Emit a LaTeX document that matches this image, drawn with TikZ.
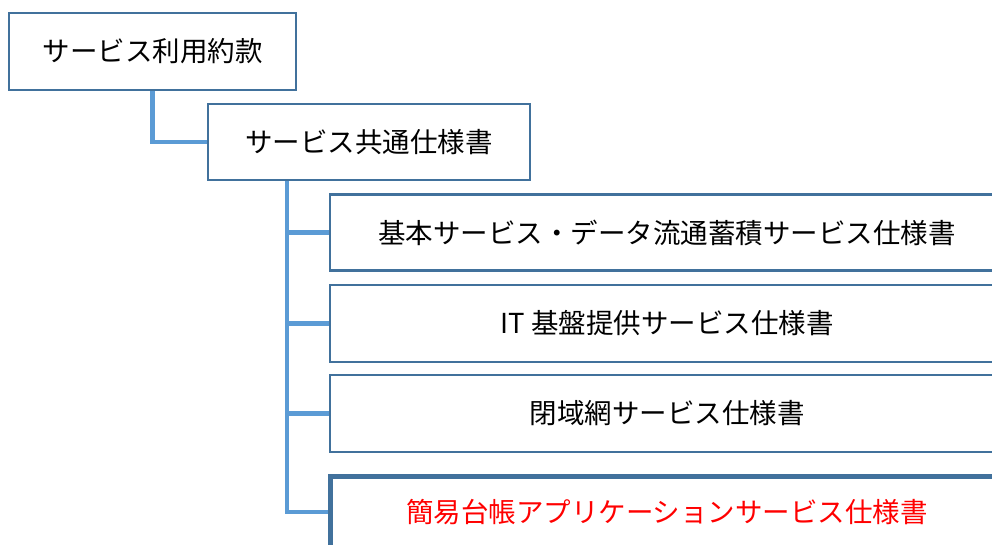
\documentclass[tikz,border=0pt]{standalone}
\usepackage{xcolor}
\usepackage{fontspec}
\newfontfamily\jpfont{Noto Sans CJK JP}
\usepackage{tikz}
\definecolor{boxline}{HTML}{41719C}
\definecolor{linkline}{HTML}{5B9BD5}

\begin{document}
\begin{tikzpicture}[x=1pt,y=-1pt]
			\tikzstyle{doc} = [draw=boxline, line width=2.8pt, fill=white, minimum height=77pt, inner sep=0pt, font=\jpfont\fontsize{27.5}{32}\selectfont]
			\tikzstyle{spec} = [doc, minimum width=674pt]
			\tikzset{link/.style = {draw=linkline, line width=4.5pt}}

			\useasboundingbox (0,0) rectangle (992,545);
			\clip (0,0) rectangle (992,545);

			\node[doc, minimum width=287pt](terms) at (152.5,51.5) {サービス利用約款};
			\node[doc, minimum width=322pt, minimum height=76pt](common) at (369,142) {サービス共通仕様書};
			\node[spec, minimum height=76pt](basic) at (667,232.5) {基本サービス・データ流通蓄積サービス仕様書};
			\node[spec](infra) at (667,323.5) {IT 基盤提供サービス仕様書};
			\node[spec](closed) at (667,413.5) {閉域網サービス仕様書};
			\node[spec, line width=5pt, minimum height=72pt, text=red](ledger) at (667,512) {簡易台帳アプリケーションサービス仕様書};

			\coordinate (trunk) at ([xshift=-82pt]common.south);
			\draw[link](terms) |- (common);
			\draw[link](trunk) |- (ledger.west);
			\draw[link](trunk |- basic.west) to (basic.west);
			\draw[link](trunk |- infra.west) to (infra.west);
			\draw[link](trunk |- closed.west) to (closed.west);

			\end{tikzpicture}
\end{document}
